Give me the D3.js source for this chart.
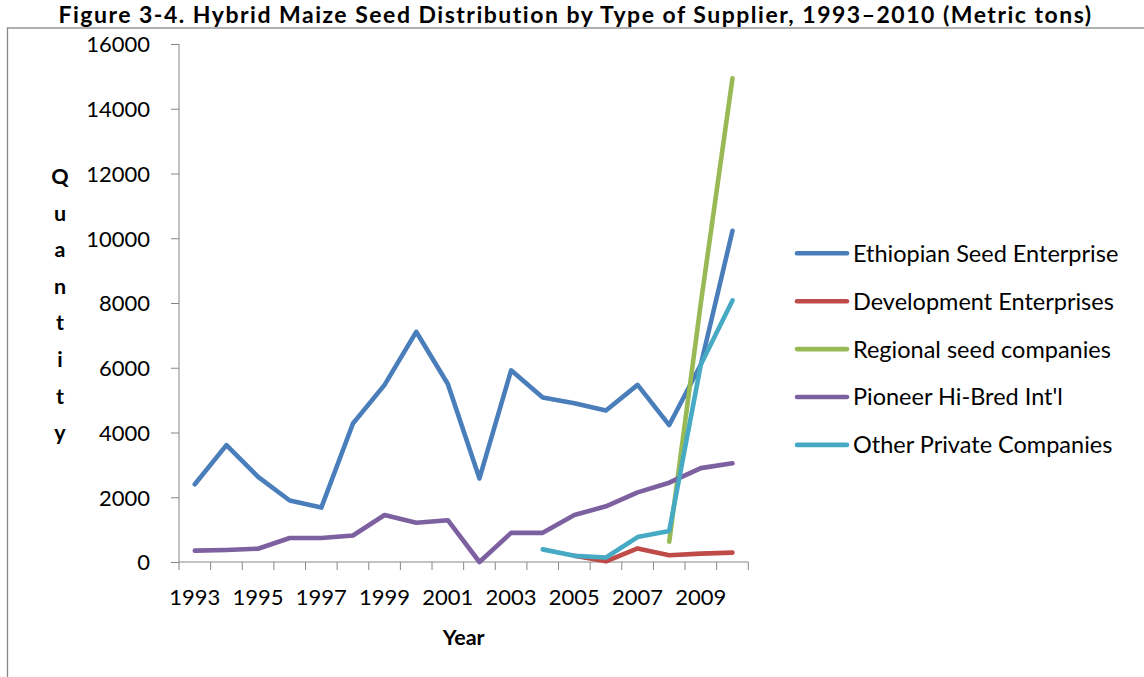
<!DOCTYPE html>
<html>
<head>
<meta charset="utf-8">
<script src="https://cdn.jsdelivr.net/npm/d3@7"></script>
<style>
  html, body { margin: 0; padding: 0; background: #ffffff; }
  svg { display: block; }
  text { font-family: Lato, "Open Sans", sans-serif; fill: #000; }
</style>
</head>
<body>
<svg id="chart" width="1144" height="677"></svg>
<script>
// Hybrid maize seed distribution (metric tons) by supplier, 1993-2010
const years = [1993, 1994, 1995, 1996, 1997, 1998, 1999, 2000, 2001, 2002,
               2003, 2004, 2005, 2006, 2007, 2008, 2009, 2010];

const ethiopianSeedEnterprise = [2400, 3610, 2630, 1900, 1680, 4280, 5470, 7110, 5500, 2580,
                                 5920, 5080, 4900, 4680, 5470, 4230, 6100, 10230];
const developmentEnterprises  = [null, null, null, null, null, null, null, null, null, null,
                                 null, null, 190, 20, 420, 210, 260, 290];
const regionalSeedCompanies   = [null, null, null, null, null, null, null, null, null, null,
                                 null, null, null, null, null, 630, 8000, 14940];
const pioneerHiBred           = [350, 370, 410, 740, 740, 820, 1450, 1210, 1290, 0,
                                 900, 900, 1450, 1720, 2150, 2450, 2900, 3050];
const otherPrivateCompanies   = [null, null, null, null, null, null, null, null, null, null,
                                 null, 390, 190, 140, 770, 960, 6100, 8080];

const seriesNames  = ["Ethiopian Seed Enterprise", "Development Enterprises",
                      "Regional seed companies", "Pioneer Hi-Bred Int'l", "Other Private Companies"];
const seriesValues = [ethiopianSeedEnterprise, developmentEnterprises,
                      regionalSeedCompanies, pioneerHiBred, otherPrivateCompanies];
const seriesColors = ["#4a7ebb", "#be4b48", "#98b954", "#7d60a0", "#46aac5"];

const yTicks = [0, 2000, 4000, 6000, 8000, 10000, 12000, 14000, 16000];
const xLabelYears = [1993, 1995, 1997, 1999, 2001, 2003, 2005, 2007, 2009];

const titleText = "Figure 3-4. Hybrid Maize Seed Distribution by Type of Supplier, 1993\u20132010 (Metric tons)";
const yTitle = "Quantity";
const xTitle = "Year";

const svg = d3.select("#chart");
const axisColor = "#868686";

// sets a text's font size so that it spans the given width
function fitWidth(sel, base, width) {
  sel.style("font-size", base + "px");
  const w = sel.node().getComputedTextLength();
  const size = base * width / w;
  sel.style("font-size", size + "px");
  return size;
}

// chart-area frame
svg.append("rect")
  .attr("x", 7.5).attr("y", 28)
  .attr("width", 1150).attr("height", 700)
  .attr("fill", "none").attr("stroke", axisColor).attr("stroke-width", 1.3);

// title: fixed size, widened slightly by letter-spacing to its line width
const title = svg.append("text")
  .attr("x", 575.5).attr("y", 22.7)
  .attr("text-anchor", "middle")
  .style("font-weight", "bold")
  .style("font-size", "23px")
  .text(titleText);
const titleW = title.node().getComputedTextLength();
const spacing = Math.max(0, Math.min(1.5, (1080 - titleW) / (titleText.length - 1)));
title.style("letter-spacing", spacing + "px");

// scales
const plot = { left: 179, right: 748.3, top: 44, bottom: 562 };
const x = d3.scaleBand().domain(years).range([plot.left, plot.right]).padding(0);
const y = d3.scaleLinear().domain([0, 16000]).range([plot.bottom, plot.top]);
const cx = yr => x(yr) + x.bandwidth() / 2;

// y axis
const yAxis = svg.append("g")
  .attr("transform", `translate(${plot.left},0)`)
  .call(d3.axisLeft(y).tickValues(yTicks).tickSize(8).tickPadding(21).tickFormat(d3.format("d")));
yAxis.select(".domain").attr("stroke", axisColor).attr("d", `M0,${plot.top}V${plot.bottom}`);
yAxis.selectAll(".tick line").attr("stroke", axisColor);
yAxis.selectAll(".tick text")
  .style("font-size", "22px")
  .attr("font-family", null)
  .attr("dy", "0.36em");

// x axis: labels on alternate years, tick marks on category boundaries
const xAxis = svg.append("g")
  .attr("transform", `translate(0,${plot.bottom})`)
  .call(d3.axisBottom(x).tickValues(xLabelYears).tickSize(0).tickPadding(0));
xAxis.select(".domain").attr("stroke", axisColor).attr("d", `M${plot.left},0H${plot.right}`);
xAxis.selectAll(".tick text")
  .style("font-size", "22px")
  .attr("font-family", null)
  .attr("y", 43).attr("dy", 0);
const edges = years.map(yr => x(yr)).concat([x.range()[1]]);
xAxis.selectAll("line.edge").data(edges).enter().append("line")
  .attr("class", "edge")
  .attr("x1", d => d).attr("x2", d => d)
  .attr("y1", 0).attr("y2", 8)
  .attr("stroke", axisColor);

// axis titles
const yt = svg.append("text")
  .attr("text-anchor", "middle")
  .style("font-weight", "bold")
  .style("font-size", "21.5px");
yt.selectAll("tspan").data(yTitle.split("")).enter().append("tspan")
  .attr("x", 60)
  .attr("y", (d, i) => 184 + i * 36.6)
  .text(d => d);

svg.append("text")
  .attr("x", (plot.left + plot.right) / 2).attr("y", 645)
  .attr("text-anchor", "middle")
  .style("font-weight", "bold")
  .style("font-size", "21.5px")
  .text(xTitle);

// series lines
const line = d3.line()
  .defined(d => d.v !== null)
  .x(d => cx(d.year))
  .y(d => y(d.v));

seriesValues.forEach((vals, i) => {
  const pts = years.map((yr, j) => ({ year: yr, v: vals[j] }));
  svg.append("path")
    .datum(pts)
    .attr("fill", "none")
    .attr("stroke", seriesColors[i])
    .attr("stroke-width", 4.6)
    .attr("stroke-linejoin", "round")
    .attr("stroke-linecap", "round")
    .attr("d", line);
});

// legend
const legend = svg.append("g");
const legendItems = legend.selectAll("g").data(seriesNames).enter().append("g")
  .attr("transform", (d, i) => `translate(0,${253.3 + i * 47.9})`);
legendItems.append("line")
  .attr("x1", 797).attr("x2", 847)
  .attr("y1", 0).attr("y2", 0)
  .attr("stroke", (d, i) => seriesColors[i])
  .attr("stroke-width", 4.6)
  .attr("stroke-linecap", "round");
const legendTexts = legendItems.append("text")
  .attr("x", 853).attr("y", 8.4)
  .text(d => d);
const legendSize = fitWidth(d3.select(legendTexts.nodes()[0]), 21.5, 277);
legendTexts.style("font-size", Math.min(legendSize, 23.5) + "px");
</script>
</body>
</html>
